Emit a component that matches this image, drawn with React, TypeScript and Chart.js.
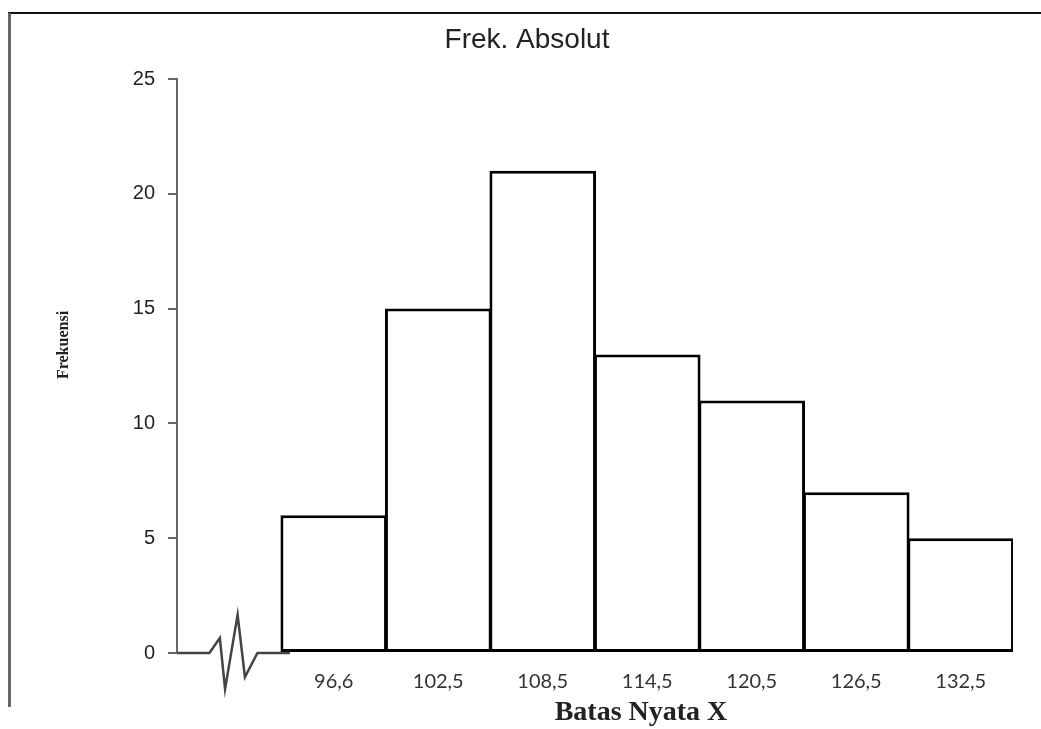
import React, { useEffect, useRef } from "react";
import { Chart, registerables } from "chart.js";

Chart.register(...registerables);

const categories = ["", "96,6", "102,5", "108,5", "114,5", "120,5", "126,5", "132,5"];
const frequencies: (number | null)[] = [null, 6, 15, 21, 13, 11, 7, 5];
const yTickValues = [0, 5, 10, 15, 20, 25];
// axis-break zigzag, in category-index / value units
const breakX = [-0.5, -0.19, -0.09, -0.04, 0.08, 0.15, 0.27, 0.58];
const breakY = [0, 0, 0.65, -1.57, 1.66, -1.05, 0, 0];

const chartTitle = "Frek. Absolut";
const xTitle = "Batas Nyata X";
const yTitle = "Frekuensi";

const decorations = {
  id: "decorations",
  beforeDraw(chart: any) {
    const { ctx, width, height } = chart;
    ctx.save();
    ctx.fillStyle = "#ffffff";
    ctx.fillRect(0, 0, width, height);
    // frame lines
    ctx.strokeStyle = "#111";
    ctx.lineWidth = 2;
    ctx.beginPath();
    ctx.moveTo(8, 13);
    ctx.lineTo(width, 13);
    ctx.stroke();
    ctx.strokeStyle = "#666";
    ctx.lineWidth = 3;
    ctx.beginPath();
    ctx.moveTo(9.5, 13);
    ctx.lineTo(9.5, 707);
    ctx.stroke();
    ctx.restore();
  },
  afterDraw(chart: any) {
    const { ctx } = chart;
    ctx.save();
    ctx.fillStyle = "#222";
    ctx.textAlign = "center";
    ctx.textBaseline = "middle";
    ctx.font = "28px 'Liberation Sans', Arial, sans-serif";
    ctx.fillText(chartTitle, 527, 40);
    ctx.font = "bold 28px 'Liberation Serif', 'Times New Roman', serif";
    ctx.fillText(xTitle, 641, 713);
    ctx.translate(64, 345);
    ctx.rotate(-Math.PI / 2);
    ctx.font = "bold 16px 'Liberation Serif', 'Times New Roman', serif";
    ctx.fillText(yTitle, 0, 0);
    ctx.restore();
  },
};

export default function App() {
  const ref = useRef<HTMLCanvasElement | null>(null);
  useEffect(() => {
    if (!ref.current) return;
    const chart = new Chart(ref.current, {
      type: "bar",
      data: {
        labels: categories,
        datasets: [
          {
            type: "line",
            data: breakX.map((x, i) => ({ x, y: breakY[i] })),
            xAxisID: "xb",
            yAxisID: "y",
            borderColor: "#444",
            borderWidth: 2.5,
            pointRadius: 0,
            tension: 0,
            clip: false,
          } as any,
          {
            type: "bar",
            data: frequencies,
            xAxisID: "x",
            yAxisID: "y",
            backgroundColor: "#ffffff",
            borderColor: "#000000",
            borderWidth: 3,
            borderSkipped: false,
            grouped: false,
            categoryPercentage: 1,
            barPercentage: 1.02,
          } as any,
        ],
      },
      options: {
        responsive: false,
        animation: false,
        layout: { padding: { top: 79, right: 28, left: 0, bottom: 0 } },
        plugins: {
          legend: { display: false },
          title: { display: false },
          tooltip: { enabled: false },
        },
        scales: {
          x: {
            type: "category",
            offset: true,
            grid: { display: false, drawTicks: false },
            border: { display: false },
            ticks: {
              color: "#333",
              padding: 17,
              maxRotation: 0,
              autoSkip: false,
              font: { family: "Lato, 'Open Sans', sans-serif", size: 20 },
            },
            afterFit(scale: any) {
              scale.height = 76;
            },
          },
          xb: {
            type: "linear",
            display: false,
            offset: false,
            min: -0.5,
            max: 7.5,
          },
          y: {
            type: "linear",
            min: 0,
            max: 25,
            afterBuildTicks(scale: any) {
              scale.ticks = yTickValues.map((v) => ({ value: v }));
            },
            grid: {
              drawOnChartArea: false,
              drawTicks: true,
              tickLength: 9,
              color: "#666",
              lineWidth: 2,
            },
            border: { display: true, color: "#666", width: 2 },
            ticks: {
              color: "#222",
              padding: 13,
              font: { family: "'Liberation Sans', Arial, sans-serif", size: 20 },
            },
            afterFit(scale: any) {
              scale.width = 177;
            },
          },
        },
      },
      plugins: [decorations],
    });
    return () => chart.destroy();
  }, []);
  return (
    <div style={{ position: "absolute", left: 0, top: 0, width: 1041, height: 729, background: "#fff" }}>
      <canvas ref={ref} width={1041} height={729} />
    </div>
  );
}
